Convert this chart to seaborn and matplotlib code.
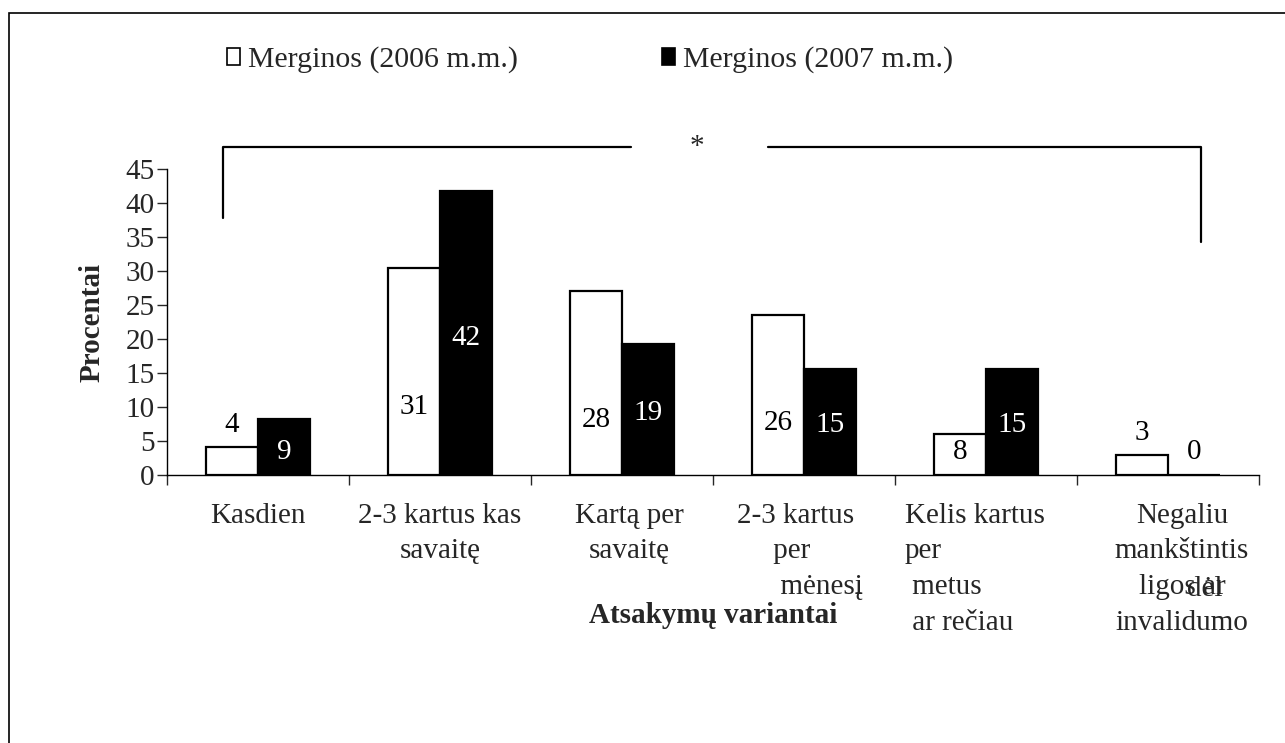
import matplotlib
matplotlib.use("Agg")
import matplotlib.pyplot as plt
import seaborn as sns
import pandas as pd
from matplotlib.patches import Patch, Rectangle

# Данные
categories = ["Kasdien", "2-3 kartus kas savaitę", "Kartą per savaitę",
              "2-3 kartus per mėnesį", "Kelis kartus per metus ar rečiau",
              "Negaliu mankštintis dėl ligos ar invalidumo"]
series = ["Merginos (2006 m.m.)", "Merginos (2007 m.m.)"]
vals_2006 = [4.1, 30.5, 27.0, 23.5, 6.1, 2.9]
vals_2007 = [8.3, 41.8, 19.2, 15.6, 15.6, 0.0]
labels_2006 = ["4", "31", "28", "26", "8", "3"]
labels_2007 = ["9", "42", "19", "15", "15", "0"]

# подписи категорий так, как они разбиты на рисунке
tick_texts = ["Kasdien", "2-3 kartus kas\nsavaitę", "Kartą per\nsavaitę",
              "2-3 kartus\n     per\n      mėnesį", "Kelis kartus\nper\n metus\n ar rečiau",
              "Negaliu\nmankštintis\nligos ar\ninvalidumo"]

# положения подписей (не данные)
lab_y_2006 = [7.3, 10.0, 8.1, 7.6, 3.4, 6.2]
lab_y_2007 = [3.4, 20.2, 9.1, 7.4, 7.4, 3.4]
tick_dx = [0.0, 0.0, 0.04, -0.368, -0.445, 0.077]
tick_ha = ["center", "center", "center", "left", "left", "center"]

df = pd.DataFrame({
    "cat": categories * 2,
    "val": vals_2006 + vals_2007,
    "series": [series[0]] * 6 + [series[1]] * 6,
})

sns.set_style("white")
plt.rcParams["font.family"] = ["Liberation Serif", "DejaVu Serif"]
FS = 21
LS = 1.48
TOP = -4.1

fig = plt.figure(figsize=(12.85, 7.43), dpi=100)
ax = fig.add_axes([167 / 1285, 1 - 475 / 743, (1259 - 167) / 1285, (475 - 169) / 743])

sns.barplot(data=df, x="cat", y="val", hue="series", palette=["white", "black"],
            edgecolor="black", linewidth=1.6, width=0.57, legend=False, ax=ax)

ax.set_xlim(-0.5, 5.5)
ax.set_ylim(0, 45)
ax.set_yticks(range(0, 46, 5))
ax.tick_params(axis="y", labelsize=FS, length=7, width=1, direction="out", left=True, pad=2)
ax.set_xticks([i - 0.5 for i in range(7)])
ax.set_xticklabels([])
ax.tick_params(axis="x", length=7, width=1, direction="out", bottom=True)
for s in ["top", "right"]:
    ax.spines[s].set_visible(False)
for s in ["left", "bottom"]:
    ax.spines[s].set_color("black")
    ax.spines[s].set_linewidth(1)

ax.set_ylabel("Procentai", fontsize=FS, fontweight="bold", labelpad=14)
ax.set_xlabel("Atsakymų variantai", fontsize=FS, fontweight="bold")
ax.xaxis.set_label_coords(0.5, -0.415)

# подписи значений
bw = 0.285
for i in range(len(categories)):
    ax.text(i - bw / 2, lab_y_2006[i], labels_2006[i], ha="center", va="center",
            fontsize=FS, color="black")
    col = "white" if vals_2007[i] > 5 else "black"
    ax.text(i + bw / 2, lab_y_2007[i], labels_2007[i], ha="center", va="center",
            fontsize=FS, color=col)

# подписи категорий
for i, t in enumerate(tick_texts):
    ax.text(i + tick_dx[i], TOP, t, ha=tick_ha[i], va="top", fontsize=FS,
            linespacing=LS, multialignment=tick_ha[i], clip_on=False)
# наложенное "dėl" как в оригинале
ax.text(5.20, TOP - 2 * 36.7 / 6.79, "dėl", ha="center", va="top", fontsize=FS,
        clip_on=False)

# скобка со звёздочкой
kw = dict(color="black", lw=1.6, clip_on=False)
ax.plot([-0.19, -0.19, 2.05], [37.8, 48.3, 48.3], **kw)
ax.plot([2.80, 5.18, 5.18], [48.3, 48.3, 34.2], **kw)
ax.text(2.41, 48.3, "*", ha="center", va="center", fontsize=FS, clip_on=False)

# легенда
handles = [Patch(facecolor="white", edgecolor="black", linewidth=1.2),
           Patch(facecolor="black", edgecolor="black", linewidth=1.2)]
fig.legend(handles, series, loc="center left", bbox_to_anchor=(227 / 1285, 1 - 60 / 743),
           ncol=2, frameon=False, fontsize=21.5, handlelength=0.42, handleheight=0.5,
           handletextpad=0.27, columnspacing=4.85, borderpad=0, borderaxespad=0)

# рамка вокруг рисунка
fig.patches.append(Rectangle((9 / 1285, -0.2), 1.2, 1.2 - 13 / 743,
                             transform=fig.transFigure, fill=False,
                             edgecolor="black", linewidth=1.2))

fig.savefig("out.png", dpi=100)
